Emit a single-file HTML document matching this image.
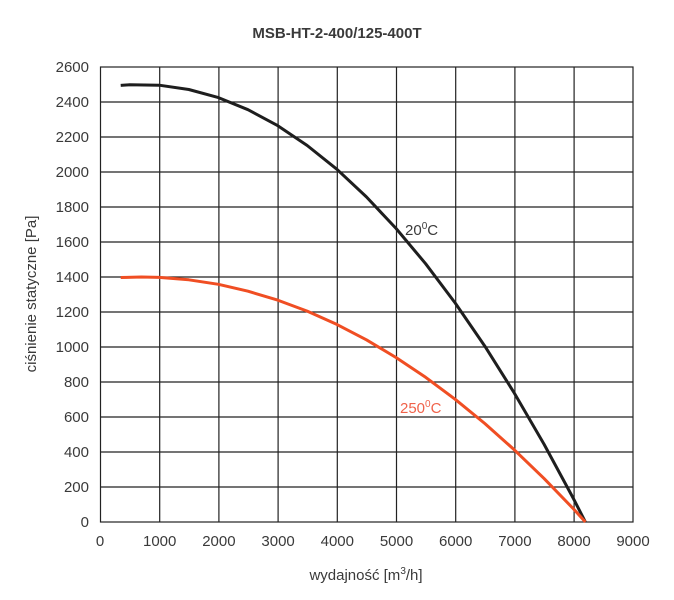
<!DOCTYPE html>
<html><head><meta charset="utf-8"><style>
body{margin:0;background:#fff}
text{font-family:"Liberation Sans",sans-serif;fill:#3a3a3a}
</style></head><body>
<svg width="674" height="595" xmlns="http://www.w3.org/2000/svg">
<text x="337" y="38" text-anchor="middle" font-size="15" font-weight="bold" fill="#222">MSB-HT-2-400/125-400T</text>
<g stroke="#222" stroke-width="1.2" fill="none">
<rect x="100.5" y="67" width="532.5" height="455"/>
<path d="M159.7 67V522M218.9 67V522M278.1 67V522M337.3 67V522M396.5 67V522M455.7 67V522M514.9 67V522M574.1 67V522
M100.5 102H633M100.5 137H633M100.5 172H633M100.5 207H633M100.5 242H633M100.5 277H633M100.5 312H633M100.5 347H633M100.5 382H633M100.5 417H633M100.5 452H633M100.5 487H633"/>
</g>
<g font-size="15" text-anchor="end">
<text x="89" y="527">0</text><text x="89" y="492">200</text><text x="89" y="457">400</text><text x="89" y="422">600</text><text x="89" y="387">800</text><text x="89" y="352">1000</text><text x="89" y="317">1200</text><text x="89" y="282">1400</text><text x="89" y="247">1600</text><text x="89" y="212">1800</text><text x="89" y="177">2000</text><text x="89" y="142">2200</text><text x="89" y="107">2400</text><text x="89" y="72">2600</text>
</g>
<g font-size="15" text-anchor="middle">
<text x="100" y="546">0</text><text x="159.7" y="546">1000</text><text x="218.9" y="546">2000</text><text x="278.1" y="546">3000</text><text x="337.3" y="546">4000</text><text x="396.5" y="546">5000</text><text x="455.7" y="546">6000</text><text x="514.9" y="546">7000</text><text x="574.1" y="546">8000</text><text x="633" y="546">9000</text>
</g>
<text x="366" y="580" font-size="15" text-anchor="middle">wydajność [m<tspan font-size="10" dy="-6">3</tspan><tspan dy="6">/h]</tspan></text>
<text transform="translate(36 294) rotate(-90)" font-size="15" text-anchor="middle">ciśnienie statyczne [Pa]</text>
<polyline fill="none" stroke="#1e1e1e" stroke-width="3" stroke-linejoin="round" points="120.7,85.4 129.6,84.8 159.2,85.2 188.8,89.5 218.4,97.6 248,109.7 277.6,125.6 307.2,145.5 336.8,169.2 366.4,196.9 396,228.4 425.6,263.7 455.2,303 484.8,346.1 514.4,393.2 544,444.1 573.6,498.9 585.4,522"/>
<polyline fill="none" stroke="#f04e23" stroke-width="3" stroke-linejoin="round" points="120.7,277.5 141.4,277 159.2,277.4 188.8,279.8 218.4,284.3 248,291.2 277.6,300.1 307.2,311.1 336.8,324.4 366.4,339.8 396,357.5 425.6,377.3 455.2,399.3 484.8,423.5 514.4,449.9 544,478.4 573.6,509 585.4,522"/>
<text x="405" y="235" font-size="15">20<tspan font-size="10" dy="-6">0</tspan><tspan dy="6">C</tspan></text>
<text x="400" y="413" font-size="15" style="fill:#f0624a">250<tspan font-size="10" dy="-6">0</tspan><tspan dy="6">C</tspan></text>
</svg>
</body></html>
